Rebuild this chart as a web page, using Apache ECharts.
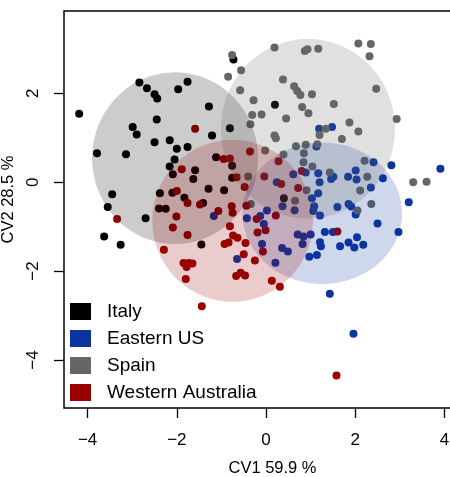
<!DOCTYPE html>
<html>
<head>
<meta charset="utf-8">
<title>CV1 / CV2</title>
<script src="https://cdn.jsdelivr.net/npm/echarts@6/dist/echarts.min.js"></script>
<style>
  html, body { margin: 0; padding: 0; background: #fff; }
  #main { width: 450px; height: 477px; }
</style>
</head>
<body>
<div id="main"></div>
<script>
// groups, in legend order
var groups = ['Italy', 'Eastern US', 'Spain', 'Western Australia'];
var groupColors = ['#000000', '#0a35a0', '#666666', '#990000'];

var xTicks = [-4, -2, 0, 2, 4];
var yTicks = [-4, -2, 0, 2];

// CV1, CV2 scores
var italy = [
  [-4.19, 1.54], [-2.84, 2.24], [-2.67, 2.11], [-2.50, 1.98], [-2.44, 1.88],
  [-1.97, 2.09], [-1.76, 2.26], [-1.28, 1.70], [-2.45, 1.41], [-2.99, 1.24],
  [-2.90, 1.07], [-2.50, 0.90], [-2.16, 0.94], [-2.00, 0.75], [-1.76, 0.79],
  [-1.21, 1.05], [-0.81, 1.21], [-0.73, 2.76], [0.20, 1.74], [-3.79, 0.65],
  [-3.14, 0.63], [-2.05, 0.51], [-2.16, 0.35], [-2.09, 0.18], [-1.63, 0.07],
  [-1.59, 0.27], [-1.12, 0.56], [-0.76, 0.37], [-0.76, 0.10], [-1.29, -0.15],
  [-0.94, -0.18], [-2.38, -0.25], [-2.10, -0.24], [-1.83, -0.35], [-1.41, -0.47],
  [-2.40, -0.59], [-2.25, -0.60], [-3.45, -0.27], [-3.55, -0.56], [-2.70, -0.81],
  [-3.63, -1.22], [-3.26, -1.41], [-1.45, -1.40], [0.40, -0.36]
];
var easternUS = [
  [1.19, 1.20], [1.48, 1.24], [1.13, 0.80], [2.41, 0.45], [2.81, 0.38],
  [3.91, 0.30], [0.61, 0.18], [0.89, 0.22], [1.17, 0.20], [1.20, 0.00],
  [1.46, 0.07], [1.51, 0.12], [1.84, 0.12], [2.01, 0.26], [2.03, 0.06],
  [2.35, -0.12], [2.62, 0.09], [0.24, 0.00], [1.17, -0.25], [1.03, -0.36],
  [3.20, -0.45], [1.08, -0.54], [1.06, -0.65], [1.60, -0.56], [1.85, -0.49],
  [1.91, -0.55], [1.21, -0.75], [2.01, -0.73], [0.02, -0.64], [-0.13, -0.76],
  [0.64, -0.63], [0.37, -0.54], [-1.17, -0.76], [-0.43, -0.81], [2.50, -0.93],
  [2.97, -1.12], [0.71, -1.18], [0.84, -1.22], [1.00, -1.18], [1.32, -1.12],
  [1.50, -1.12], [2.04, -1.24], [-0.05, -0.94], [1.85, -1.36], [1.98, -1.47],
  [2.18, -1.41], [1.66, -1.44], [1.21, -1.35], [1.23, -1.44], [0.82, -1.39],
  [0.36, -1.48], [0.49, -1.56], [1.14, -1.64], [0.97, -1.68], [0.21, -1.81],
  [-0.09, -1.39], [-0.65, -1.73], [1.43, -2.51], [1.96, -3.41]
];
var spain = [
  [-0.76, 2.86], [0.19, 3.03], [0.87, 2.95], [0.93, 2.99], [1.17, 3.00],
  [2.07, 3.12], [2.35, 3.11], [2.32, 2.83], [-0.56, 2.52], [-0.85, 2.37],
  [0.38, 2.31], [0.63, 2.16], [0.70, 2.05], [0.77, 1.96], [1.03, 1.98],
  [2.47, 2.10], [-0.58, 2.07], [-0.28, 1.84], [0.81, 1.69], [0.95, 1.55],
  [-0.31, 1.51], [-0.10, 1.52], [0.45, 1.43], [1.52, 1.76], [2.93, 1.42],
  [-0.35, 1.30], [0.19, 1.05], [0.22, 0.99], [1.87, 1.34], [2.07, 1.14],
  [1.70, 0.97], [1.34, 1.20], [-0.02, 0.71], [0.39, 0.62], [0.67, 0.81],
  [0.89, 0.84], [1.15, 0.85], [0.85, 0.65], [0.84, 0.45], [1.04, 0.35],
  [1.43, 0.22], [2.21, 0.48], [2.27, 0.12], [2.11, -0.19], [2.36, -0.49],
  [2.05, -0.64], [3.30, 0.00], [3.60, 0.01], [-0.40, 0.13], [-0.34, -0.49],
  [0.65, -0.42], [0.91, -0.18], [1.20, 1.06]
];
var westernAustralia = [
  [-1.59, 1.20], [-0.36, 0.69], [-0.95, 0.52], [-0.81, 0.53], [0.28, 0.47],
  [-1.89, 0.29], [-0.66, 0.11], [-0.04, 0.13], [-0.48, -0.11], [-2.00, -0.20],
  [-1.76, -0.47], [-1.48, -0.50], [-1.07, -0.65], [-0.77, -0.54], [-0.75, -0.69],
  [-0.44, -0.53], [0.34, -0.04], [0.72, -0.13], [0.80, 0.25], [0.22, -0.75],
  [-3.34, -0.83], [-2.01, -0.77], [-2.09, -1.02], [-1.76, -1.19], [-0.81, -0.99],
  [-0.74, -1.20], [-0.64, -1.25], [-0.21, -0.83], [-0.01, -1.08], [-0.19, -1.13],
  [1.60, -1.11], [-2.29, -1.52], [-1.85, -1.82], [-1.73, -1.82], [-1.65, -1.83],
  [-1.78, -1.91], [-1.80, -2.18], [-1.44, -2.79], [-0.93, -1.39], [-0.84, -1.36],
  [-0.46, -1.37], [-0.50, -1.62], [-0.25, -1.76], [-0.67, -2.11], [-0.57, -2.04],
  [-0.47, -2.10], [-0.07, -1.56], [0.13, -2.22], [0.31, -2.35], [1.58, -4.35]
];
var groupPoints = [italy, easternUS, spain, westernAustralia];

// group ellipses (centre and half-axes, in CV units)
var ellipseCx = [-2.04, 1.26, 0.94, -0.75];
var ellipseCy = [0.54, -0.70, 1.20, -0.87];
var ellipseRx = [1.86, 1.79, 1.95, 1.80];
var ellipseRy = [1.93, 1.59, 2.02, 1.82];

var fontFamily = '"Liberation Sans", Arial, Helvetica, sans-serif';

function minusLabel(v) {
  return v < 0 ? '\u2212' + Math.abs(v) : String(v);
}

function renderEllipse(params, api) {
  var cx = api.value(0), cy = api.value(1), rx = api.value(2), ry = api.value(3);
  var pts = [];
  for (var i = 0; i < 144; i++) {
    var t = i / 144 * Math.PI * 2;
    pts.push(api.coord([cx + rx * Math.cos(t), cy + ry * Math.sin(t)]));
  }
  return {
    type: 'polygon',
    shape: { points: pts },
    style: { fill: groupColors[params.seriesIndex - groups.length], opacity: 0.2 }
  };
}

var series = [];
groups.forEach(function (g, i) {
  series.push({
    name: g,
    type: 'scatter',
    data: groupPoints[i],
    symbol: 'circle',
    symbolSize: 8,
    itemStyle: { color: groupColors[i], opacity: 1 },
    emphasis: { disabled: true },
    z: 2
  });
});
groups.forEach(function (g, i) {
  series.push({
    name: g + ' ellipse',
    type: 'custom',
    renderItem: renderEllipse,
    data: [[ellipseCx[i], ellipseCy[i], ellipseRx[i], ellipseRy[i]]],
    silent: true,
    z: 3
  });
});

var chart = echarts.init(document.getElementById('main'));
chart.setOption({
  animation: false,
  backgroundColor: '#ffffff',
  textStyle: { fontFamily: fontFamily },
  grid: {
    left: 64, top: 11, right: -31, bottom: 69,
    outerBoundsMode: 'none',
    containLabel: false,
    show: true, borderColor: '#000', borderWidth: 1.5, backgroundColor: '#fff'
  },
  legend: {
    data: groups,
    orient: 'vertical',
    left: 65,
    top: 297,
    icon: 'rect',
    itemWidth: 21,
    itemHeight: 17,
    itemGap: 8,
    selectedMode: false,
    textStyle: { fontSize: 19, color: '#000', lineHeight: 19, padding: [0, 0, 0, 11], fontFamily: fontFamily }
  },
  xAxis: {
    type: 'value',
    min: -4.53,
    max: 4.82,
    name: 'CV1 59.9 %',
    nameLocation: 'middle',
    nameGap: 52,
    nameTextStyle: { fontSize: 16.5, color: '#000' },
    axisLine: { show: false, onZero: false },
    splitLine: { show: false },
    axisTick: { show: true, customValues: xTicks, length: 10, lineStyle: { color: '#000', width: 1.3 } },
    axisLabel: { customValues: xTicks, formatter: minusLabel, fontSize: 17, color: '#000', margin: 24 }
  },
  yAxis: {
    type: 'value',
    min: -5.08,
    max: 3.85,
    name: 'CV2 28.5 %',
    nameLocation: 'middle',
    nameGap: 39,
    nameTextStyle: { fontSize: 16.5, color: '#000', padding: [0, 0, 0, 20] },
    axisLine: { show: false, onZero: false },
    splitLine: { show: false },
    axisTick: { show: true, customValues: yTicks, length: 10, lineStyle: { color: '#000', width: 1.3 } },
    axisLabel: { customValues: yTicks, formatter: minusLabel, fontSize: 17, color: '#000', margin: 22, rotate: 90 }
  },
  series: series
});
</script>
</body>
</html>
